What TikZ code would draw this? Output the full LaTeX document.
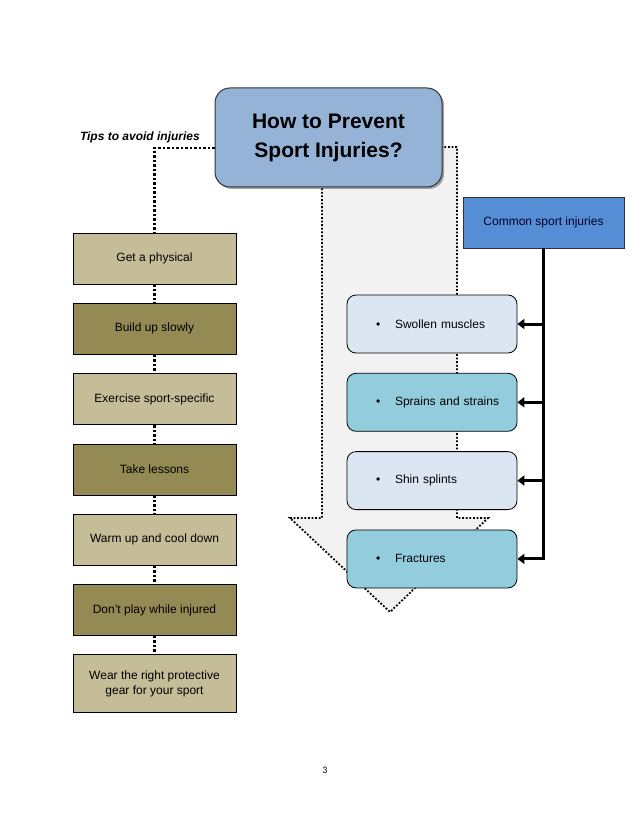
\documentclass[tikz,border=0pt]{standalone}
\usepackage{fontspec}
\setmainfont{Liberation Sans}
\newfontfamily\pagenumfont{Carlito}
\usetikzlibrary{positioning,arrows.meta,shadows}

\definecolor{titleblue}{HTML}{95B3D7}
\definecolor{tiplight}{HTML}{C4BD97}
\definecolor{tipdark}{HTML}{948A54}
\definecolor{commonblue}{HTML}{558ED5}
\definecolor{injlight}{HTML}{DCE6F2}
\definecolor{injteal}{HTML}{93CDDD}
\definecolor{arrowgray}{HTML}{F2F2F2}

\newcommand{\injitem}[1]{\hspace*{14pt}\makebox[19pt][l]{\textbullet}#1}

\begin{document}
\begin{tikzpicture}[
  x=1pt, y=-1pt,
  node distance=18.5pt,
  titlenode/.style={rectangle, rounded corners=15pt, draw=black!80, line width=1pt, fill=titleblue,
    minimum width=227pt, minimum height=99pt, align=center,
    font=\fontsize{21}{29}\selectfont\bfseries,
    drop shadow={shadow xshift=2pt, shadow yshift=-2pt, fill=black!60, opacity=.6}},
  tipbox/.style={rectangle, draw=black, line width=0.8pt, fill=tiplight,
    minimum width=163pt, minimum height=51pt, align=center, font=\fontsize{12}{15}\selectfont},
  tipboxdark/.style={tipbox, fill=tipdark},
  injbox/.style={rectangle, rounded corners=9pt, draw=black, line width=0.8pt, fill=injlight,
    minimum height=58pt, text width=140pt, inner xsep=15pt, align=left, font=\fontsize{12}{15}\selectfont},
  injboxteal/.style={injbox, fill=injteal},
  commonnode/.style={rectangle, draw=black!80, line width=0.8pt, fill=commonblue,
    minimum width=161pt, minimum height=51pt, font=\fontsize{12}{15}\selectfont, text=black!85!blue},
  tipline/.style={line width=2.5pt, dash pattern=on 2.5pt off 2pt},
  bigarrow/.style={fill=arrowgray, draw=black, line width=1.8pt, dash pattern=on 1.8pt off 1.8pt},
  injline/.style={line width=3pt},
  injarrow/.style={injline, -{Triangle[length=7pt,width=10pt]}}
]
\useasboundingbox (0,0) rectangle (638,826);

% Big dotted arrow behind the injuries
\draw[bigarrow] (322,147) -- (457,147) -- (457,518) -- (488,518) -- (390,612) -- (290,518) -- (322,518) -- cycle;

% Title
\node[titlenode] (title) at (328.5,137.5) {How to Prevent\\Sport Injuries?};
\node[anchor=base east, inner sep=0pt, font=\fontsize{12}{14}\selectfont\bfseries\itshape] (tiplabel) at (200,141) {Tips to avoid injuries};

% Tips column
\node[tipbox] (tip1) at (154.5,258.5) {Get a physical};
\node[tipboxdark, below=of tip1] (tip2) {Build up slowly};
\node[tipbox, below=of tip2] (tip3) {Exercise sport-specific};
\node[tipboxdark, below=of tip3] (tip4) {Take lessons};
\node[tipbox, below=of tip4] (tip5) {Warm up and cool down};
\node[tipboxdark, below=of tip5] (tip6) {Don’t play while injured};
\node[tipbox, below=of tip6, minimum height=58pt] (tip7) {Wear the right protective\\gear for your sport};

\draw[tipline] ([yshift=-10.5pt]title.west) -| (tip1.north);
\foreach \i/\j in {1/2,2/3,3/4,4/5,5/6,6/7}
  \draw[tipline] (tip\i) -- (tip\j);

% Common injuries
\node[commonnode] (common) at (543.5,222.5) {Common sport injuries};
\node[injbox] (inj1) at (432,324) {\injitem{Swollen muscles}};
\node[injboxteal, below=19.5pt of inj1] (inj2) {\injitem{Sprains and strains}};
\node[injbox, below=19.5pt of inj2] (inj3) {\injitem{Shin splints}};
\node[injboxteal, below=19.5pt of inj3] (inj4) {\injitem{Fractures}};

\draw[injarrow] (common.south) |- (inj4.east);
\foreach \i in {1,2,3}
  \draw[injarrow] (common.south |- inj\i.east) -- (inj\i.east);

\node[font=\pagenumfont\fontsize{10}{12}\selectfont] (pagenum) at (325,770) {3};

\end{tikzpicture}
\end{document}
